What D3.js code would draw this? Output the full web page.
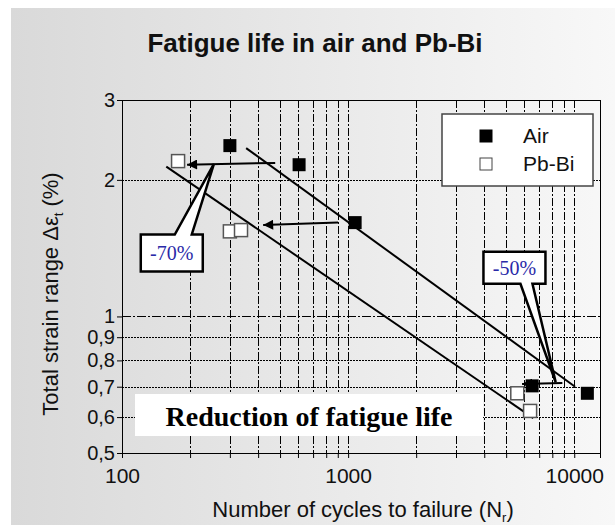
<!DOCTYPE html>
<html><head><meta charset="utf-8">
<script src="https://cdn.jsdelivr.net/npm/d3@7"></script>
<style>body{margin:0;background:#fff;} svg{display:block;}</style>
</head><body>
<script>
// ---- data ----
const airCycles = [300, 607, 1074, 6515, 11430];
const airStrain = [2.38, 2.16, 1.61, 0.703, 0.677];
const pbbiCycles = [177, 300, 336, 5600, 6380];
const pbbiStrain = [2.20, 1.54, 1.55, 0.677, 0.619];
const airFitCycles = [354, 10090];
const airFitStrain = [2.35, 0.70];
const pbbiFitCycles = [157, 6590];
const pbbiFitStrain = [2.14, 0.597];
const arrowFrom = [[476, 2.18], [903, 1.61], [8860, 0.713]];
const arrowTo = [[194, 2.16], [421, 1.59], [5880, 0.71]];
const xTickValues = [100, 1000, 10000];
const xTickLabels = ["100", "1000", "10000"];
const yTickValues = [3, 2, 1, 0.9, 0.8, 0.7, 0.6, 0.5];
const yTickLabels = ["3", "2", "1", "0,9", "0,8", "0,7", "0,6", "0,5"];
const xGridValues = [200, 300, 400, 500, 600, 700, 800, 900, 1000, 2000, 3000, 4000, 5000, 6000, 7000, 8000, 9000, 10000];
const yGridValues = [2, 1, 0.9, 0.8, 0.7, 0.6];
const calloutLabels = ["-70%", "-50%"];
const calloutCenter = [[166, 1.38], [5440, 1.28]];
const calloutTip = [[255, 2.17], [8280, 0.716]];
const legendLabels = ["Air", "Pb-Bi"];

const W = 615, H = 527;
const m = {left: 122, right: 15, top: 100, bottom: 74};
const svg = d3.select("body").append("svg").attr("width", W).attr("height", H);

const defs = svg.append("defs");
const grad = defs.append("linearGradient").attr("id", "bg").attr("x1", 0).attr("x2", 1).attr("y1", 0).attr("y2", 0);
grad.append("stop").attr("offset", 0).attr("stop-color", "#d9d9d9");
grad.append("stop").attr("offset", 1).attr("stop-color", "#f8f8f8");
defs.append("marker").attr("id", "ah").attr("viewBox", "0 0 10 10").attr("refX", 10).attr("refY", 5)
  .attr("markerWidth", 6).attr("markerHeight", 5).attr("markerUnits", "strokeWidth").attr("orient", "auto")
  .append("path").attr("d", "M0,0L10,5L0,10Z").attr("fill", "#000");

svg.append("rect").attr("x", 11).attr("y", 8).attr("width", W - 11).attr("height", 517).attr("fill", "url(#bg)");

const x = d3.scaleLog().domain([100, 13000]).range([m.left, W - m.right]);
const y = d3.scaleLog().domain([0.5, 3]).range([H - m.bottom, m.top]);
const px = v => Math.round(x(v)) + 0.5;
const py = v => Math.round(y(v)) + 0.5;

// title
svg.append("text").attr("x", 315).attr("y", 52).attr("text-anchor", "middle")
  .attr("font-family", "Liberation Sans, Arial, sans-serif").attr("font-weight", "bold").attr("font-size", 26)
  .attr("fill", "#111").text("Fatigue life in air and Pb-Bi");

// grid
const g = svg.append("g").attr("shape-rendering", "crispEdges");
g.selectAll(".vg").data(xGridValues).join("line")
  .attr("x1", d => px(d)).attr("x2", d => px(d)).attr("y1", y(3)).attr("y2", y(0.5))
  .attr("stroke", "#000").attr("stroke-width", 1).attr("stroke-dasharray", "8,2,2,2");
g.selectAll(".hg").data(yGridValues).join("line")
  .attr("x1", x(100)).attr("x2", x(13000)).attr("y1", d => py(d)).attr("y2", d => py(d))
  .attr("stroke", "#000").attr("stroke-width", 1).attr("stroke-dasharray", d => d === 1 ? "9,2,2,2" : "2,1");

// border
svg.append("rect").attr("x", px(100)).attr("y", py(3)).attr("width", px(13000) - px(100)).attr("height", py(0.5) - py(3))
  .attr("fill", "none").attr("stroke", "#000").attr("stroke-width", 1).attr("shape-rendering", "crispEdges");

// axes
const xAxis = d3.axisBottom(x).tickValues([100].concat(xGridValues)).tickSize(5)
  .tickFormat(d => { const i = xTickValues.indexOf(d); return i >= 0 ? xTickLabels[i] : ""; });
const gx = svg.append("g").attr("transform", `translate(0,${y(0.5)})`).call(xAxis);
gx.select(".domain").attr("stroke", "#000");
gx.selectAll("text").attr("font-family", "Liberation Sans, Arial, sans-serif").attr("font-size", 21).attr("fill", "#111").attr("dy", "1.05em");

const yAxis = d3.axisLeft(y).tickValues(yTickValues).tickSize(5)
  .tickFormat(d => yTickLabels[yTickValues.indexOf(d)]);
const gy = svg.append("g").attr("transform", `translate(${x(100)},0)`).call(yAxis);
gy.select(".domain").attr("stroke", "#000");
gy.selectAll("text").attr("font-family", "Liberation Sans, Arial, sans-serif").attr("font-size", 20).attr("fill", "#111").attr("x", -7);

// axis titles
const xt = svg.append("text").attr("x", 363).attr("y", 517).attr("text-anchor", "middle")
  .attr("font-family", "Liberation Sans, Arial, sans-serif").attr("font-size", 22).attr("fill", "#111");
xt.append("tspan").text("Number of cycles to failure (N");
xt.append("tspan").attr("font-size", 13).attr("dy", 5).text("r");
xt.append("tspan").attr("dy", -5).text(")");

const yt = svg.append("text").attr("transform", "translate(58,294) rotate(-90)").attr("text-anchor", "middle")
  .attr("font-family", "Liberation Sans, Arial, sans-serif").attr("font-size", 22).attr("fill", "#111");
yt.append("tspan").text("Total strain range Δε");
yt.append("tspan").attr("font-size", 13).attr("dy", 5).text("t");
yt.append("tspan").attr("dy", -5).text(" (%)");

// fit lines
const line = d3.line().x(d => x(d[0])).y(d => y(d[1]));
svg.append("path").attr("d", line(airFitCycles.map((c, i) => [c, airFitStrain[i]])))
  .attr("stroke", "#000").attr("stroke-width", 2).attr("fill", "none");
svg.append("path").attr("d", line(pbbiFitCycles.map((c, i) => [c, pbbiFitStrain[i]])))
  .attr("stroke", "#000").attr("stroke-width", 2).attr("fill", "none");

// arrows
svg.selectAll(".arr").data(arrowFrom).join("line")
  .attr("x1", d => x(d[0])).attr("y1", d => y(d[1]))
  .attr("x2", (d, i) => x(arrowTo[i][0])).attr("y2", (d, i) => y(arrowTo[i][1]))
  .attr("stroke", "#000").attr("stroke-width", 2).attr("marker-end", "url(#ah)");

// points
const S = 13;
svg.selectAll(".pb").data(pbbiCycles).join("rect")
  .attr("x", d => x(d) - S / 2).attr("y", (d, i) => y(pbbiStrain[i]) - S / 2).attr("width", S).attr("height", S)
  .attr("fill", "#fff").attr("stroke", "#555").attr("stroke-width", 1.5);
svg.selectAll(".air").data(airCycles).join("rect")
  .attr("x", d => x(d) - S / 2).attr("y", (d, i) => y(airStrain[i]) - S / 2).attr("width", S).attr("height", S)
  .attr("fill", "#000");

// callouts
const boxW = 62, boxH = [37, 32];
calloutLabels.forEach((lab, i) => {
  const cx = x(calloutCenter[i][0]), cy = y(calloutCenter[i][1]);
  const tx = x(calloutTip[i][0]), ty = y(calloutTip[i][1]);
  const l = cx - boxW / 2, r = cx + boxW / 2, t = cy - boxH[i] / 2, b = cy + boxH[i] / 2;
  let p;
  if (ty < t) {
    p = `M${l},${t}L${l + 34},${t}L${tx},${ty}L${l + 51},${t}L${r},${t}L${r},${b}L${l},${b}Z`;
  } else {
    p = `M${l},${t}L${r},${t}L${r},${b}L${l + 49},${b}L${tx},${ty}L${l + 37},${b}L${l},${b}Z`;
  }
  svg.append("path").attr("d", p).attr("fill", "#fff").attr("stroke", "#000").attr("stroke-width", 2.5).attr("stroke-linejoin", "miter");
  svg.append("text").attr("x", cx).attr("y", cy + 7).attr("text-anchor", "middle")
    .attr("font-family", "Liberation Serif, Times New Roman, serif").attr("font-size", 20).attr("fill", "#2a2aa8").text(lab);
});

// reduction box
svg.append("rect").attr("x", 135).attr("y", 394).attr("width", 348).attr("height", 42).attr("fill", "#fff");
svg.append("text").attr("x", 309).attr("y", 426).attr("text-anchor", "middle")
  .attr("font-family", "Liberation Serif, Times New Roman, serif").attr("font-weight", "bold").attr("font-size", 28)
  .attr("fill", "#000").text("Reduction of fatigue life");

// legend
const lg = svg.append("g").attr("transform", "translate(442,114)");
lg.append("rect").attr("width", 151).attr("height", 72).attr("fill", "#fff").attr("stroke", "#444").attr("stroke-width", 1.5);
legendLabels.forEach((lab, i) => {
  lg.append("rect").attr("x", 38).attr("y", 16 + i * 28).attr("width", 12).attr("height", 12)
    .attr("fill", i === 0 ? "#000" : "#fff").attr("stroke", i === 0 ? "#000" : "#444").attr("stroke-width", 1);
  lg.append("text").attr("x", 81).attr("y", 29 + i * 28)
    .attr("font-family", "Liberation Sans, Arial, sans-serif").attr("font-size", 21).attr("fill", "#111").text(lab);
});
</script>
</body></html>
